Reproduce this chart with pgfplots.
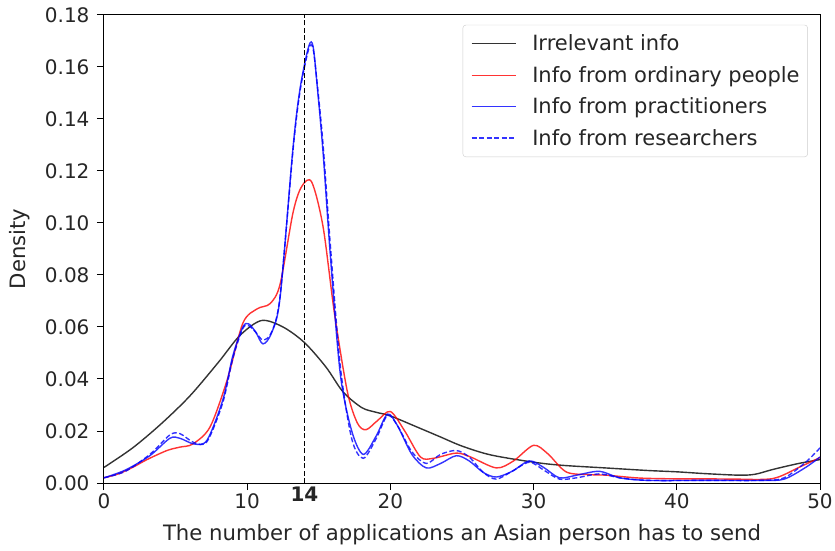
\documentclass[border=0pt]{standalone}
\usepackage{pgfplots}
\pgfplotsset{compat=1.18}
\usepackage{fontspec}
\setmainfont{DejaVu Sans}
\newcommand{\mpl}{\fontsize{20}{24}\selectfont}
\newcommand{\mpll}{\fontsize{21.2}{25}\selectfont}
\newcommand{\mplg}{\fontsize{21}{25}\selectfont}
\begin{document}
\begin{tikzpicture}
\path[use as bounding box] (-104pt,-68pt) rectangle (731pt,483pt);
\begin{axis}[
  scale only axis, width=716pt, height=468pt,
  xmin=0, xmax=50, ymin=0, ymax=0.18,
  xtick={0,10,20,30,40,50},
  ytick={0,0.02,...,0.18},
  extra x ticks={14},
  extra x tick labels={\textbf{14}},
  extra x tick style={major tick length=0pt},
  yticklabel style={xshift=-4pt, /pgf/number format/.cd, fixed, fixed zerofill, precision=2},
  /pgf/number format/assume math mode=true,
  tick align=outside, xtick pos=bottom, ytick pos=left,
  major tick length=7pt,
  tick style={black, line width=1pt},
  axis line style={black, line width=1pt},
  tick label style={font=\mpl, text=black!85},
  xlabel={The number of applications an Asian person has to send},
  ylabel={Density},
  every axis x label/.style={at={(axis description cs:0.5,-0.111)}, anchor=center, font=\mpll, text=black!85},
  every axis y label/.style={at={(axis description cs:-0.1173,0.5)}, rotate=90, anchor=center, font=\mpll, text=black!85},
  legend cell align=left,
  legend style={font=\mplg, text=black!85, draw=black!20, rounded corners=3pt, fill=white,
    at={(axis description cs:0.983,0.979)}, anchor=north east,
    nodes={inner sep=0pt},
    inner xsep=8pt, inner ysep=10pt, row sep=14pt,
    /tikz/every odd column/.append style={column sep=16pt}},
  legend image code/.code={\draw[#1] (0pt,0pt) -- (44pt,0pt);},
  every axis plot/.append style={line width=1.4pt, opacity=0.8},
]
\addplot[black, smooth] coordinates {
(0,0.0060) (2,0.0135) (4,0.0228) (6,0.0335) (8,0.0465) (9.5,0.0568)
(11,0.0625) (12.5,0.0600) (14,0.0540) (15.5,0.0446) (16.7,0.0350) (18,0.0290)
(19,0.0272) (20,0.0258) (22,0.0212) (23.5,0.0177) (25,0.0142) (27,0.0108)
(30,0.0080) (32,0.0068) (35,0.0058) (38,0.0048) (40,0.0043) (42,0.0036) (44.4,0.0030)
(45.5,0.0034) (46.7,0.0052) (48.5,0.0075) (50,0.0090)
};
\addlegendentry{Irrelevant info}
\addplot[red, smooth] coordinates {
(0,0.0020) (1,0.0035) (2,0.0060) (3,0.0090) (4.4,0.0125) (5.3,0.0138) (6.2,0.0150)
(7.4,0.0215) (8.6,0.0396) (9.7,0.0615) (10.7,0.0670) (11.6,0.0690) (12.3,0.0765)
(13.2,0.1040) (13.8,0.1140) (14.5,0.1158) (15.3,0.0985) (16.1,0.0650) (17,0.0350)
(17.7,0.0230) (18.3,0.0205) (19.1,0.0240) (20,0.0275) (21,0.0200) (22.1,0.0100)
(23,0.0095) (24.6,0.0115) (25.6,0.0100) (27.4,0.0058) (28.6,0.0085) (30,0.0145)
(31,0.0112) (32.3,0.0042) (34,0.0032) (35.1,0.0030) (37.4,0.0019) (40,0.0016)
(42.1,0.0016) (44,0.0015) (46.7,0.0017) (48.6,0.0062) (50,0.0098)
};
\addlegendentry{Info from ordinary people}
\addplot[blue, smooth] coordinates {
(0,0.0020) (1.5,0.0050) (3.2,0.0105) (4.6,0.0172) (5.3,0.0172) (6.3,0.0150)
(7.2,0.0165) (8.3,0.0320) (9,0.0490) (9.7,0.0600) (10.1,0.0612) (10.6,0.0580)
(11.1,0.0535) (11.7,0.0577) (12.3,0.0715) (13.2,0.1290) (13.7,0.1520) (14.3,0.1680)
(14.6,0.1680) (14.9,0.1520) (15.3,0.1270) (15.8,0.0880) (16.5,0.0420) (17.3,0.0200)
(18.1,0.0110) (19,0.0180) (19.8,0.0265) (20.5,0.0220) (21.5,0.0110) (22.5,0.0058)
(23.5,0.0075) (24.6,0.0105) (25.5,0.0085) (26.5,0.0040) (27.4,0.0023) (28.5,0.0045)
(29.7,0.0085) (30.7,0.0060) (31.8,0.0020) (33,0.0030) (34.6,0.0045) (36,0.0020)
(38,0.0010) (42,0.0010) (46,0.0010) (47.5,0.0015) (49,0.0060) (50,0.0100)
};
\addlegendentry{Info from practitioners}
\addplot[blue, smooth, dash pattern=on 5pt off 2.5pt] coordinates {
(0,0.0020) (1.5,0.0045) (3.2,0.0110) (4.6,0.0185) (5.3,0.0190) (6.3,0.0155)
(7.2,0.0160) (8.3,0.0310) (9,0.0480) (9.7,0.0595) (10.1,0.0605) (10.6,0.0580)
(11.1,0.0550) (11.7,0.0580) (12.3,0.0720) (13.2,0.1280) (13.7,0.1510) (14.3,0.1670)
(14.6,0.1670) (14.9,0.1530) (15.3,0.1300) (15.8,0.0920) (16.5,0.0450) (17.3,0.0170)
(18.1,0.0095) (19,0.0170) (19.8,0.0260) (20.5,0.0220) (21.5,0.0120) (22.5,0.0075)
(23.5,0.0110) (24.6,0.0125) (25.5,0.0100) (26.5,0.0040) (27.4,0.0015) (28.5,0.0045)
(29.7,0.0080) (30.7,0.0050) (31.8,0.0015) (33,0.0020) (34.6,0.0035) (36,0.0020)
(38,0.0010) (42,0.0010) (46,0.0010) (47.5,0.0020) (49,0.0080) (50,0.0135)
};
\addlegendentry{Info from researchers}
\addplot[black, line width=1pt, opacity=1, dash pattern=on 5pt off 2.5pt, forget plot] coordinates {(14,0) (14,0.18)};
\end{axis}
\end{tikzpicture}
\end{document}
